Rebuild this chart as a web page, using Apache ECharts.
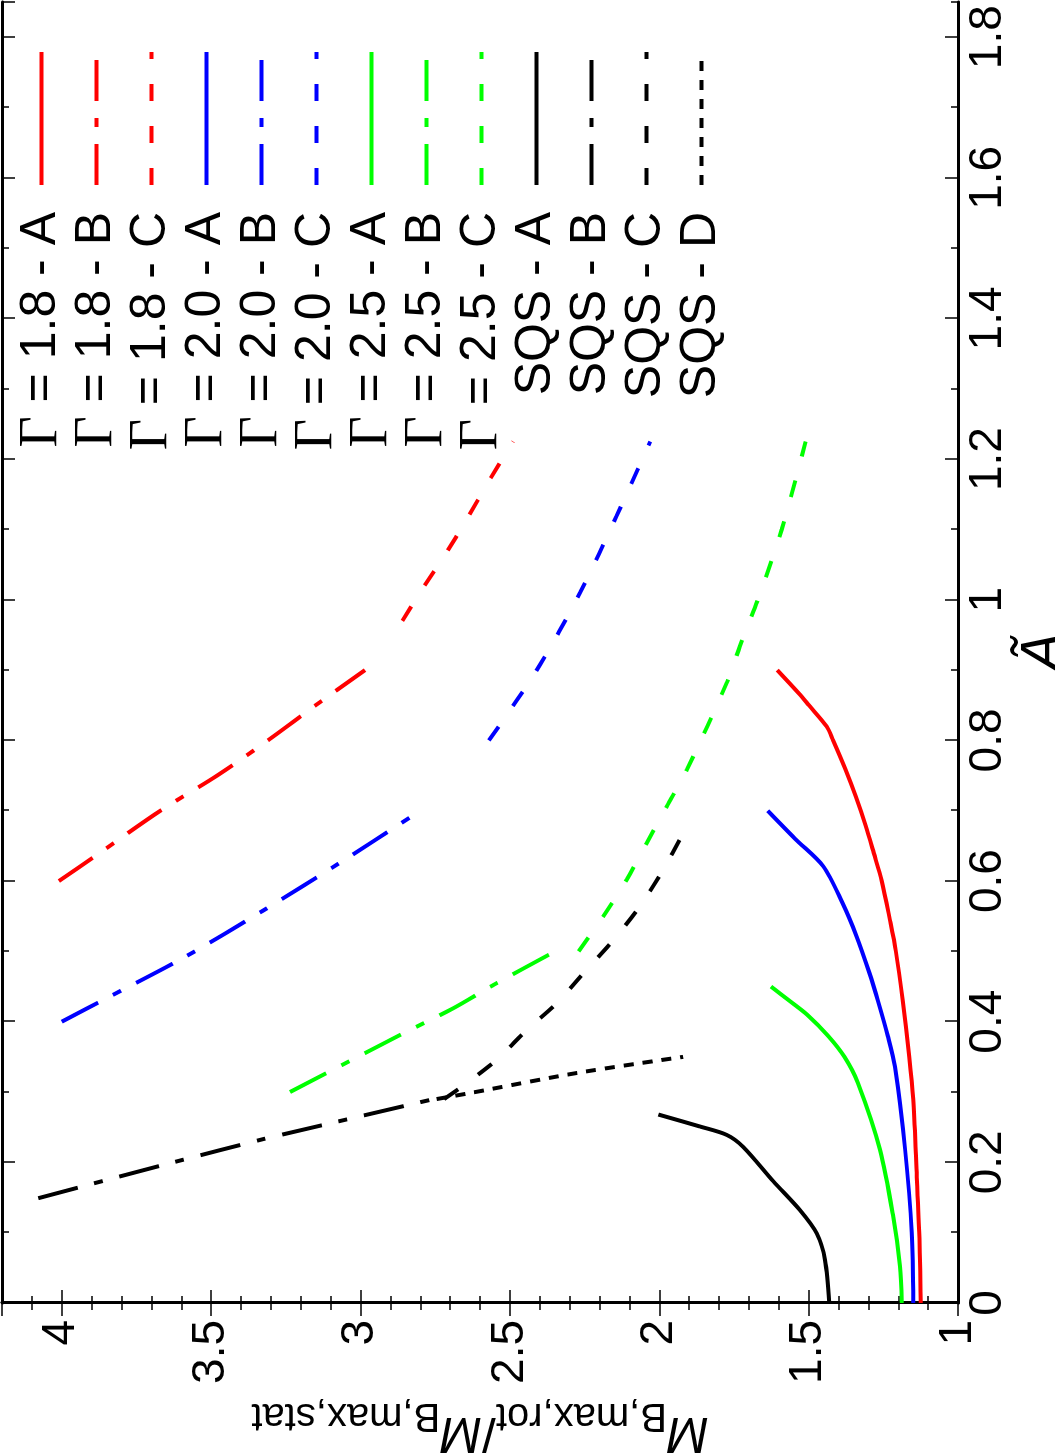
<!DOCTYPE html>
<html>
<head>
<meta charset="utf-8">
<script src="https://cdn.jsdelivr.net/npm/echarts@6/dist/echarts.min.js"></script>
<style>
html,body{margin:0;padding:0;background:#fff;overflow:hidden;width:1055px;height:1453px;}
#chart{position:absolute;left:0;top:0;width:1453px;height:1055px;transform-origin:0 0;transform:translate(0px,1453px) rotate(-90deg);background:#fff;}
</style>
</head>
<body>
<div id="chart"></div>
<script>
// ---- Data: [A~, M_B,max,rot / M_B,max,stat] ----
const seriesNames = ['Γ = 1.8 - A','Γ = 1.8 - B','Γ = 1.8 - C','Γ = 2.0 - A','Γ = 2.0 - B','Γ = 2.0 - C','Γ = 2.5 - A','Γ = 2.5 - B','Γ = 2.5 - C','SQS - A','SQS - B','SQS - C','SQS - D'];
const seriesColors = ['#ff0000','#ff0000','#ff0000','#0000ff','#0000ff','#0000ff','#00ff00','#00ff00','#00ff00','#000000','#000000','#000000','#000000'];
const seriesDash = ['A','B','C','A','B','C','A','B','C','A','B','C','D'];

const g18A = [[0,1.125],[0.1,1.13],[0.2,1.14],[0.29,1.15],[0.35,1.163],[0.43,1.185],[0.5,1.208],[0.545,1.228],[0.6,1.255],[0.64,1.282],[0.68,1.31],[0.72,1.342],[0.76,1.378],[0.8,1.418],[0.82,1.44],[0.85,1.499],[0.867,1.533],[0.9,1.605]];
const g18B = [[0.6,4.01],[0.637,3.883],[0.7,3.67],[0.75,3.48],[0.8,3.31],[0.85,3.15],[0.9,2.985]];
const g18C = [[0.97,2.86],[1.014,2.795],[1.064,2.717],[1.114,2.645],[1.171,2.567],[1.225,2.489]];
const g20A = [[0,1.15],[0.1,1.155],[0.218,1.177],[0.336,1.211],[0.38,1.235],[0.43,1.268],[0.47,1.297],[0.521,1.339],[0.57,1.388],[0.621,1.451],[0.66,1.545],[0.7,1.637]];
const g20B = [[0.4,4.0],[0.431,3.861],[0.492,3.588],[0.558,3.326],[0.626,3.069],[0.7,2.8]];
const g20C = [[0.8,2.57],[0.9,2.41],[1.01,2.265],[1.119,2.143],[1.225,2.03]];
const g25A = [[0,1.188],[0.052,1.194],[0.123,1.217],[0.218,1.261],[0.313,1.335],[0.35,1.38],[0.38,1.435],[0.41,1.505],[0.43,1.565],[0.45,1.626]];
const g25B = [[0.3,3.236],[0.381,2.868],[0.419,2.69],[0.452,2.556],[0.5,2.349]];
const g25C = [[0.5,2.27],[0.55,2.187],[0.602,2.109],[0.654,2.042],[0.706,1.975],[0.758,1.908],[0.882,1.774],[0.934,1.73],[1.0,1.67],[1.1,1.59],[1.225,1.51]];
const sqsA = [[0,1.431],[0.061,1.445],[0.099,1.473],[0.132,1.529],[0.173,1.618],[0.222,1.719],[0.239,1.774],[0.251,1.864],[0.268,2.003]];
const sqsB = [[0.149,4.079],[0.2,3.627],[0.233,3.326],[0.241,3.247],[0.291,2.745]];
const sqsC = [[0.29,2.72],[0.314,2.64],[0.346,2.544],[0.388,2.444],[0.426,2.344],[0.474,2.243],[0.516,2.154],[0.564,2.065],[0.616,1.987],[0.668,1.92]];
const sqsD = [[0.29,2.745],[0.299,2.628],[0.327,2.277],[0.35,1.92]];
const seriesData = [g18A,g18B,g18C,g20A,g20B,g20C,g25A,g25B,g25C,sqsA,sqsB,sqsC,sqsD];

const xTicksMajor = 0.2, xTicksMinor = 0.1, xMin = 0, xMax = 1.85;
const yTicksMajor = 0.5, yTicksMinor = 0.1, yMin = 1, yMax = 4.2;

const dashTypes = {A:'solid', B:[41,17,9,17], C:[17,25], D:[10,9]};

const chart = echarts.init(document.getElementById('chart'), null, {renderer:'canvas', width:1453, height:1055});
const SANS = 'Liberation Sans, Arial, Helvetica, sans-serif';
const SERIF = 'Liberation Serif, Times New Roman, serif';
const gridRect = {left:150, right:2, top:2, bottom:97, outerBoundsMode:'none', containLabel:false};

function xAx(gridIndex, pos, interval, major, withLabel) {
  const o = {
    type:'value', gridIndex, position:pos, min:xMin, max:xMax, interval,
    axisLine:{show:major, lineStyle:{color:'#000', width:3}},
    axisTick:{show:true, inside:true, length: major?13:7, lineStyle:{color:'#000', width:1.5}},
    axisLabel:{show:withLabel, fontSize:46, fontFamily:SANS, color:'#000', margin:7, showMaxLabel:false},
    splitLine:{show:false}, minorTick:{show:false}
  };
  if (withLabel) {
    o.name = 'Ã'; o.nameLocation = 'middle'; o.nameGap = 12;
    o.nameTextStyle = {fontSize:58, fontFamily:SANS, fontStyle:'italic', color:'#000'};
  }
  return o;
}
function yAx(gridIndex, pos, interval, major, withLabel) {
  const o = {
    type:'value', gridIndex, position:pos, min:yMin, max:yMax, interval,
    axisLine:{show:major, lineStyle:{color:'#000', width:3}},
    axisTick:{show:true, inside:true, length: major?13:7, lineStyle:{color:'#000', width:1.5}},
    axisLabel:{show:withLabel, fontSize:46, fontFamily:SANS, color:'#000', margin:17, showMaxLabel:false},
    splitLine:{show:false}, minorTick:{show:false}
  };
  if (withLabel) {
    o.name = '{m|M}{s|B,max,rot}{n|/}{m|M}{s|B,max,stat}';
    o.nameLocation = 'middle'; o.nameGap = 86;
    o.nameTextStyle = {color:'#000', rich:{
      m:{fontSize:50, fontFamily:SANS, fontStyle:'italic', color:'#000', lineHeight:60},
      n:{fontSize:50, fontFamily:SANS, color:'#000', lineHeight:60},
      s:{fontSize:40, fontFamily:SANS, color:'#000', lineHeight:40, padding:[34,0,0,0]}
    }};
  }
  return o;
}

const series = seriesNames.map((name, i) => ({
  name, type:'line', xAxisIndex:0, yAxisIndex:0,
  data: seriesData[i], symbol:'none', showSymbol:false, smooth:0.3, silent:true,
  lineStyle:{color:seriesColors[i], width:4, type:dashTypes[seriesDash[i]], cap:'butt'},
  itemStyle:{color:seriesColors[i]}
}));

chart.setOption({
  animation:false,
  backgroundColor:'#fff',
  grid:[Object.assign({}, gridRect), Object.assign({}, gridRect)],
  xAxis:[
    xAx(0,'bottom',xTicksMajor,true,true),
    xAx(0,'top',xTicksMajor,true,false),
    xAx(1,'bottom',xTicksMinor,false,false),
    xAx(1,'top',xTicksMinor,false,false)
  ],
  yAxis:[
    yAx(0,'left',yTicksMajor,true,true),
    yAx(0,'right',yTicksMajor,true,false),
    yAx(1,'left',yTicksMinor,false,false),
    yAx(1,'right',yTicksMinor,false,false)
  ],
  legend:{
    orient:'vertical', right:50, top:14, align:'right', padding:0,
    itemWidth:133, itemHeight:4, itemGap:0,
    data: seriesNames,
    itemStyle:{opacity:0, borderWidth:0},
    lineStyle:{width:4},
    formatter: function(name){
      if (name.charAt(0) === 'Γ') return '{g|Γ}{t|' + name.slice(1) + '}';
      return '{t|' + name + '}';
    },
    textStyle:{fontSize:50, fontFamily:SANS, color:'#000', padding:[0,22,0,0], lineHeight:55,
      rich:{
        g:{fontSize:54, fontFamily:SERIF, color:'#000', lineHeight:55},
        t:{fontSize:50, fontFamily:SANS, color:'#000', lineHeight:55}
      }},
    inactiveColor:'#000'
  },
  series
});
</script>
</body>
</html>
